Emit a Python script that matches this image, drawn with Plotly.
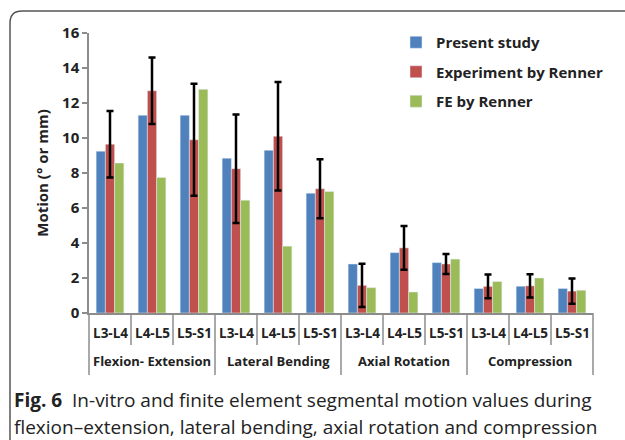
import plotly.graph_objects as go

groups = ["Flexion- Extension"] * 3 + ["Lateral Bending"] * 3 + ["Axial Rotation"] * 3 + ["Compression"] * 3
levels = ["L3-L4", "L4-L5", "L5-S1"] * 4

present = [9.25, 11.3, 11.3, 8.85, 9.3, 6.85, 2.8, 3.45, 2.88, 1.4, 1.53, 1.4]
experiment = [9.65, 12.7, 9.9, 8.25, 10.1, 7.1, 1.58, 3.72, 2.8, 1.52, 1.55, 1.25]
experiment_sd = [1.9, 1.9, 3.2, 3.1, 3.1, 1.68, 1.24, 1.25, 0.57, 0.68, 0.67, 0.72]
fe = [8.57, 7.75, 12.78, 6.45, 3.82, 6.95, 1.45, 1.2, 3.08, 1.8, 2.0, 1.3]

colors = {"present": "#4F81BD", "exp": "#C0504D", "fe": "#9BBB59"}
FONT = "Open Sans"
AXC = "#8c8c8c"

fig = go.Figure()
x = [groups, levels]
fig.add_trace(go.Bar(x=x, y=present, name="Present study", marker_color=colors["present"],
                     legendgroup="a"))
fig.add_trace(go.Bar(x=x, y=experiment, name="Experiment by Renner", marker_color=colors["exp"],
                     legendgroup="b",
                     error_y=dict(type="data", array=experiment_sd, visible=True,
                                  color="black", thickness=2.5, width=3.5)))
fig.add_trace(go.Bar(x=x, y=fe, name="FE by Renner", marker_color=colors["fe"], legendgroup="c"))

W, H = 625, 440
L, R, T, B = 89, 32, 33, 127
pw, ph = W - L - R, H - T - B

def px(xp):
    return (xp - L) / pw

def py(yp):
    return (H - B - yp) / ph

n = len(levels)

fig.update_layout(
    width=W, height=H,
    margin=dict(l=L, r=R, t=T, b=B, autoexpand=False),
    paper_bgcolor="white", plot_bgcolor="white",
    barmode="group", bargap=0.34, bargroupgap=0,
    font=dict(family=FONT, color="#222", size=13),
    showlegend=True,
    legend=dict(x=px(396), y=py(26), xanchor="left", yanchor="top",
                font=dict(family=FONT, size=15, weight="bold", color="#222"),
                tracegroupgap=7, traceorder="grouped", bgcolor="rgba(0,0,0,0)"),
    xaxis=dict(type="multicategory", showline=True, linecolor=AXC, linewidth=1.5,
               ticks="", showticklabels=False, showdividers=False, showgrid=False),
    yaxis=dict(range=[0, 16], dtick=2, showline=True, linecolor=AXC, linewidth=1.5,
               ticks="outside", ticklen=5, tickcolor=AXC, tickwidth=1.5,
               showgrid=False, zeroline=False,
               tickfont=dict(family=FONT, size=15, weight="bold", color="#222"),
               title=dict(text="Motion (° or mm)", standoff=10,
                          font=dict(family=FONT, size=15, weight="bold", color="#222"))),
)

# category labels and separators (Excel-style two-level axis)
lab_font = dict(family=FONT, size=13.5, weight="bold", color="#222")
grp_font = dict(family=FONT, size=13, weight="bold", color="#222")
for i, lv in enumerate(levels):
    fig.add_annotation(xref="paper", yref="paper", x=(i + 0.5) / n, y=py(333),
                       text=lv, showarrow=False, xanchor="center", yanchor="middle", font=lab_font)
for i in range(n + 1):
    is_group_edge = i == 0 or i == n or groups[i] != groups[i - 1]
    y_end = 375 if is_group_edge else 345
    fig.add_shape(type="line", xref="paper", yref="paper", x0=i / n, x1=i / n,
                  y0=0, y1=py(y_end), line=dict(color=AXC, width=1.5))
start = 0
for i in range(1, n + 1):
    if i == n or groups[i] != groups[start]:
        fig.add_annotation(xref="paper", yref="paper", x=(start + i) / 2 / n, y=py(361),
                           text=groups[start], showarrow=False, xanchor="center",
                           yanchor="middle", font=grp_font)
        start = i

# frame with rounded top-left corner
path = (f"M {px(10)},{py(440)} L {px(10)},{py(23)} Q {px(10)},{py(11)} {px(22)},{py(11)} "
        f"L {px(626)},{py(11)}")
fig.add_shape(type="path", path=path, xref="paper", yref="paper",
              line=dict(color="#555", width=1.5))

fig.add_annotation(xref="paper", yref="paper", x=px(12), y=py(400), xanchor="left", yanchor="middle",
                   showarrow=False,
                   text="<b>Fig. 6</b>  In-vitro and finite element segmental motion values during",
                   font=dict(family=FONT, size=19, color="#222"))
fig.add_annotation(xref="paper", yref="paper", x=px(12), y=py(427), xanchor="left", yanchor="middle",
                   showarrow=False,
                   text="flexion–extension, lateral bending, axial rotation and compression",
                   font=dict(family=FONT, size=19, color="#222"))

fig.write_html("out.html")
